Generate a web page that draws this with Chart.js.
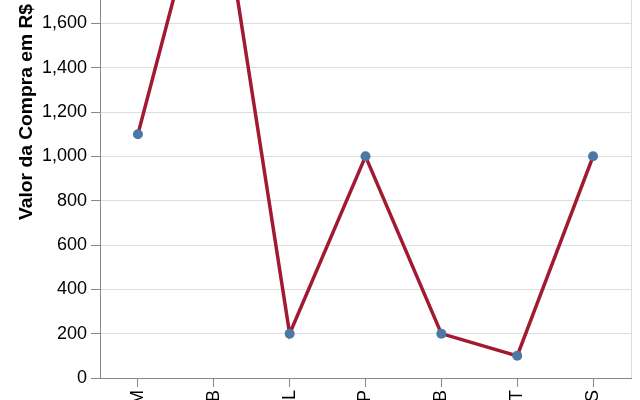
<!DOCTYPE html>
<html>
<head>
<meta charset="utf-8">
<script src="https://cdn.jsdelivr.net/npm/chart.js@4/dist/chart.umd.min.js"></script>
<style>
  html, body { margin: 0; padding: 0; background: #fff; overflow: hidden; width: 640px; height: 400px; }
  #wrap { position: absolute; left: 0; top: -200px; width: 640px; height: 640px; }
</style>
</head>
<body>
<div id="wrap"><canvas id="c"></canvas></div>
<script>
const categories = ['M', 'B', 'L', 'P', 'B', 'T', 'S'];
const values = [1100, 2400, 200, 1000, 200, 100, 1000];
const yMin = 0;
const yMax = 2400;
const yStep = 200;
const yTitle = 'Valor da Compra em R$';

const FONT = '"Liberation Sans", Arial, sans-serif';

const framePlugin = {
  id: 'frame',
  beforeDatasetsDraw(chart) {
    const a = chart.chartArea, ctx = chart.ctx;
    ctx.save();
    ctx.strokeStyle = '#dddddd';
    ctx.lineWidth = 1;
    ctx.beginPath();
    ctx.moveTo(a.left, a.top + 0.5);
    ctx.lineTo(Math.round(a.right) + 0.5, a.top + 0.5);
    ctx.lineTo(Math.round(a.right) + 0.5, a.bottom);
    ctx.stroke();
    ctx.restore();
  }
};

new Chart(document.getElementById('c'), {
  type: 'line',
  data: {
    labels: categories,
    datasets: [{
      data: values,
      borderColor: '#a11a31',
      borderWidth: 3.5,
      backgroundColor: '#4c78a8',
      pointBackgroundColor: '#4c78a8',
      pointBorderWidth: 0,
      pointRadius: 5,
      pointHoverRadius: 5,
      tension: 0,
      fill: false,
      clip: false
    }]
  },
  options: {
    responsive: true,
    maintainAspectRatio: false,
    animation: false,
    locale: 'en-US',
    layout: { padding: { top: 46, right: 9, left: 0, bottom: 0 } },
    plugins: { legend: { display: false }, tooltip: { enabled: false } },
    scales: {
      x: {
        type: 'category',
        offset: true,
        afterFit(scale) { scale.height = 62; },
        border: { color: '#888888', width: 1 },
        grid: { display: true, drawOnChartArea: false, drawTicks: true, tickLength: 9, tickColor: '#888888', offset: false },
        ticks: {
          autoSkip: false, minRotation: 90, maxRotation: 90, padding: 3,
          color: '#000000', font: { family: FONT, size: 18 }
        }
      },
      y: {
        min: yMin, max: yMax,
        afterFit(scale) { scale.width = 100; },
        border: { color: '#888888', width: 1 },
        grid: { color: '#dddddd', lineWidth: 1, drawTicks: true, tickLength: 9, tickColor: '#888888' },
        ticks: {
          stepSize: yStep, padding: 4, color: '#000000',
          font: { family: FONT, size: 18 }
        },
        title: {
          display: true, text: yTitle, color: '#000000',
          font: { family: FONT, size: 19.25, weight: 'bold' },
          padding: { top: 15, bottom: 0 }
        }
      }
    }
  },
  plugins: [framePlugin]
});
</script>
</body>
</html>
